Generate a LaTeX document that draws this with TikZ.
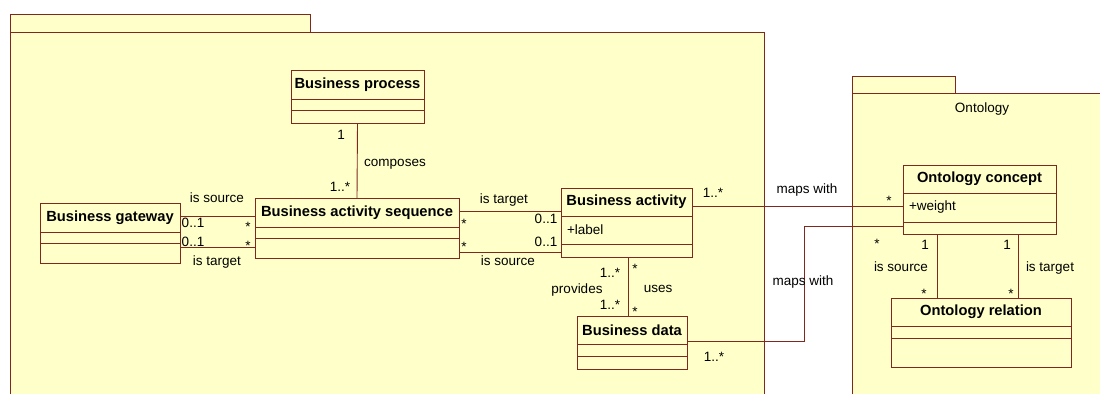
\documentclass[tikz,border=0pt]{standalone}
\usepackage{fontspec}
\setmainfont{Liberation Sans}
\usetikzlibrary{positioning}

\definecolor{umlline}{RGB}{128,40,30}
\definecolor{umlfill}{RGB}{255,255,202}

\tikzset{
  umltitle/.style={draw=umlline, fill=umlfill, line width=0.9pt, outer sep=0pt,
    inner sep=0pt, minimum height=28, font=\fontsize{14.7}{16}\selectfont\bfseries},
  umlpart/.style={draw=umlline, fill=umlfill, line width=0.9pt, outer sep=0pt,
    inner sep=0pt, minimum height=12},
  umlattr/.style={umlpart, align=left, text width=#1, inner xsep=6pt,
    font=\fontsize{13.5}{15}\selectfont},
  assoc/.style={draw=umlline, line width=0.9pt},
  lbl/.style={inner sep=0pt, text height=0.72em, text depth=0.2em, yshift=-2pt,
    font=\fontsize{13.5}{15}\selectfont},
  mstar/.style={lbl, yshift=-5pt}
}

\begin{document}
\begin{tikzpicture}[x=1pt, y=-1pt]
    \useasboundingbox[fill=white] (0,0) rectangle (1100,394);

    % Paket links
    \draw[umlline, fill=umlfill, line width=0.9pt] (10,14) rectangle (310,32);
    \fill[umlfill] (10,32) rectangle (764,394);
    \draw[umlline, line width=0.9pt] (10,394) -- (10,32) -- (764,32) -- (764,394);

    % Paket Ontology
    \draw[umlline, fill=umlfill, line width=0.9pt] (852,76) rectangle (955,93);
    \fill[umlfill] (852,93) rectangle (1100,394);
    \draw[umlline, line width=0.9pt] (852,394) -- (852,93) -- (1100,93);
    \node[lbl] (ontpkg) at (982,108) {Ontology};

    % Business process
    \node[umltitle, minimum width=133, minimum height=29] (proc) at (357.5,84.5) {Business process};
    \node[umlpart, minimum width=133, minimum height=11, below=0pt of proc] (procA) {};
    \node[umlpart, minimum width=133, minimum height=13, below=0pt of procA] (procB) {};

    % Business gateway
    \node[umltitle, minimum width=140, minimum height=29] (gw) at (110,217.5) {Business gateway};
    \node[umlpart, minimum width=140, minimum height=11, below=0pt of gw] (gwA) {};
    \node[umlpart, minimum width=140, minimum height=20, below=0pt of gwA] (gwB) {};

    % Business activity sequence
    \node[umltitle, minimum width=204, minimum height=29] (seq) at (357,212.5) {Business activity sequence};
    \node[umlpart, minimum width=204, minimum height=11, below=0pt of seq] (seqA) {};
    \node[umlpart, minimum width=204, minimum height=20, below=0pt of seqA] (seqB) {};

    % Business activity
    \node[umltitle, minimum width=131] (act) at (626.5,202) {Business activity};
    \node[umlattr=119pt, minimum width=131, minimum height=28, below=0pt of act] (actA) {+label};
    \node[umlpart, minimum width=131, minimum height=13, below=0pt of actA] (actB) {};

    % Business data
    \node[umltitle, minimum width=110] (data) at (632,330) {Business data};
    \node[umlpart, minimum width=110, below=0pt of data] (dataA) {};
    \node[umlpart, minimum width=110, minimum height=13, below=0pt of dataA] (dataB) {};

    % Ontology concept
    \node[umltitle, minimum width=153] (oc) at (979.5,179) {Ontology concept};
    \node[umlattr=141pt, minimum width=153, minimum height=29, below=0pt of oc] (ocA) {+weight};
    \node[umlpart, minimum width=153, below=0pt of ocA] (ocB) {};

    % Ontology relation
    \node[umltitle, minimum width=180] (orl) at (981,312) {Ontology relation};
    \node[umlpart, minimum width=180, below=0pt of orl] (orlA) {};
    \node[umlpart, minimum width=180, minimum height=29, below=0pt of orlA] (orlB) {};

    % composes
    \draw[assoc] (procB.south) -- (seq.north);
    \node[lbl] (cmpA) at (341,135) {1};
    \node[lbl] (cmpL) at (395,162) {composes};
    \node[lbl] (cmpB) at (340,187) {1..*};

    % Gateway - Sequenz
    \draw[assoc] (gw.east |- 0,216) -- (seq.west |- 0,216);
    \draw[assoc] (gwB.east |- 0,247) -- (seqB.west |- 0,247);
    \node[lbl] (gsL) at (217,198) {is source};
    \node[lbl] (gsA) at (193,223) {0..1};
    \node[mstar] (gsB) at (248,222) {*};
    \node[lbl] (gtA) at (193,242) {0..1};
    \node[mstar] (gtB) at (248,241) {*};
    \node[lbl] (gtL) at (217,261) {is target};

    % Sequenz - Aktivitaet
    \draw[assoc] (seq.east |- 0,211) -- (act.west |- 0,211);
    \draw[assoc] (seqB.east |- 0,252) -- (actB.west |- 0,252);
    \node[lbl] (saL) at (504,199) {is target};
    \node[mstar] (saA) at (464,219) {*};
    \node[lbl] (saB) at (546,219) {0..1};
    \node[mstar] (ssA) at (464,242) {*};
    \node[lbl] (ssB) at (546,242) {0..1};
    \node[lbl] (ssL) at (508,261) {is source};

    % Aktivitaet - Daten
    \draw[assoc] (actB.south -| 628,0) -- (data.north -| 628,0);
    \node[lbl] (prA) at (610,273) {1..*};
    \node[mstar] (usA) at (635,264) {*};
    \node[lbl] (prL) at (577,289) {provides};
    \node[lbl] (usL) at (658,288) {uses};
    \node[lbl] (prB) at (610,305) {1..*};
    \node[mstar] (usB) at (635,307) {*};

    % maps with (Aktivitaet)
    \draw[assoc] (act.east |- 0,206) -- (ocA.west |- 0,206);
    \node[lbl] (maA) at (713,193) {1..*};
    \node[lbl] (maL) at (807,189) {maps with};
    \node[mstar] (maB) at (889,196) {*};

    % maps with (Daten)
    \coordinate (mdBend) at (804,226);
    \draw[assoc] (dataA.east |- 0,341) -| (mdBend) -- (ocB.west |- mdBend);
    \node[lbl] (mdA) at (714,357) {1..*};
    \node[lbl] (mdL) at (803,281) {maps with};
    \node[mstar] (mdB) at (877,239) {*};

    % Konzept - Relation
    \draw[assoc] (ocB.south -| 937,0) -- (orl.north -| 937,0);
    \draw[assoc] (ocB.south -| 1018,0) -- (orl.north -| 1018,0);
    \node[lbl] (rsA) at (925,245) {1};
    \node[lbl] (rsL) at (901,267) {is source};
    \node[mstar] (rsB) at (924,289) {*};
    \node[lbl] (rtA) at (1007,245) {1};
    \node[lbl] (rtL) at (1050,267) {is target};
    \node[mstar] (rtB) at (1011,289) {*};
\end{tikzpicture}
\end{document}
